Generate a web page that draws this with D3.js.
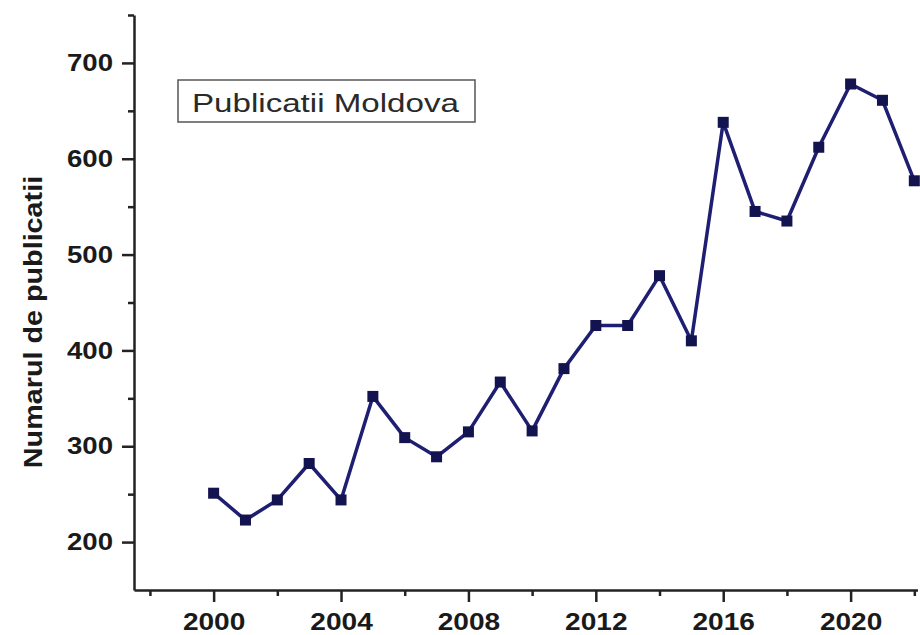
<!DOCTYPE html>
<html>
<head>
<meta charset="utf-8">
<script src="https://cdn.jsdelivr.net/npm/d3@7"></script>
<style>
  html, body { margin: 0; padding: 0; background: #fff; }
  svg { display: block; }
</style>
</head>
<body>
<svg id="chart" width="920" height="635"></svg>
<script>
// Yearly publication counts for Moldova
const years = [2000, 2001, 2002, 2003, 2004, 2005, 2006, 2007, 2008, 2009, 2010, 2011,
               2012, 2013, 2014, 2015, 2016, 2017, 2018, 2019, 2020, 2021, 2022];
const publications = [251, 223, 244, 282, 244, 352, 309, 289, 315, 367, 316, 381,
                      426, 426, 478, 410, 638, 545, 535, 612, 678, 661, 577];
const xMajorTicks = [2000, 2004, 2008, 2012, 2016, 2020];
const xMinorTicks = [1998, 2002, 2006, 2010, 2014, 2018, 2022];
const yMajorTicks = [200, 300, 400, 500, 600, 700];
const yMinorTicks = [250, 350, 450, 550, 650, 750];
const seriesName = "Publicatii Moldova";
const yTitle = "Numarul de publicatii";

const svg = d3.select("#chart");
const plotLeft = 134, plotRight = 917.5, plotTop = 15, plotBottom = 590;
const axisColor = "#222";
const lineColor = "#1e1e72";
const markerColor = "#13134f";
const wide = 1.15; // horizontal stretch of the label glyphs

const x = d3.scaleLinear().domain([1997.5, 2022.1]).range([plotLeft, plotRight]);
const y = d3.scaleLinear().domain([150, 750]).range([plotBottom, plotTop]);

svg.append("rect").attr("width", 920).attr("height", 635).attr("fill", "#fff");

// X axis: major ticks with labels, minor ticks without
const gx = svg.append("g").attr("transform", `translate(0,${plotBottom})`);
gx.call(d3.axisBottom(x).tickValues(xMajorTicks).tickFormat(d3.format("d"))
  .tickSize(12).tickPadding(11).tickSizeOuter(0));
gx.append("g").call(d3.axisBottom(x).tickValues(xMinorTicks).tickFormat("")
  .tickSize(6).tickSizeOuter(0)).select(".domain").remove();

// Y axis
const gy = svg.append("g").attr("transform", `translate(${plotLeft},0)`);
gy.call(d3.axisLeft(y).tickValues(yMajorTicks).tickFormat(d3.format("d"))
  .tickSize(12).tickPadding(9).tickSizeOuter(0));
gy.append("g").call(d3.axisLeft(y).tickValues(yMinorTicks).tickFormat("")
  .tickSize(6).tickSizeOuter(0)).select(".domain").remove();

[gx, gy].forEach(g => {
  g.selectAll(".domain, line").attr("stroke", axisColor).attr("stroke-width", 2.5);
  g.selectAll("text")
    .attr("fill", "#1a1a1a")
    .style("font-family", "'Liberation Sans', Arial, sans-serif")
    .style("font-weight", "bold")
    .style("font-size", "24px");
});
gx.selectAll(".tick text").attr("dy", "0.71em").attr("transform", `scale(${wide + 0.02},1)`);
gy.selectAll(".tick text").attr("x", -21 / wide).attr("transform", `scale(${wide},1)`);

// Y axis title
svg.append("text")
  .attr("transform", `translate(33,322) rotate(-90) scale(${wide},1)`)
  .attr("text-anchor", "middle")
  .attr("dy", "0.36em")
  .attr("fill", "#1a1a1a")
  .style("font-family", "'Liberation Sans', Arial, sans-serif")
  .style("font-weight", "bold")
  .style("font-size", "25px")
  .text(yTitle);

// Data line and square markers
const data = years.map((yr, i) => ({ year: yr, value: publications[i] }));
svg.append("path")
  .datum(data)
  .attr("fill", "none")
  .attr("stroke", lineColor)
  .attr("stroke-width", 3.5)
  .attr("stroke-linejoin", "round")
  .attr("d", d3.line().x(d => x(d.year)).y(d => y(d.value)));

const m = 11;
svg.append("g").selectAll("rect")
  .data(data)
  .join("rect")
  .attr("x", d => x(d.year) - m / 2)
  .attr("y", d => y(d.value) - m / 2)
  .attr("width", m)
  .attr("height", m)
  .attr("fill", markerColor);

// Legend box
const legend = svg.append("g");
legend.append("rect")
  .attr("x", 178).attr("y", 80).attr("width", 297).attr("height", 42)
  .attr("fill", "#fff").attr("stroke", "#555").attr("stroke-width", 1.5);
legend.append("text")
  .attr("transform", "translate(192,111.5) scale(1.25,1)")
  .attr("fill", "#2a2a2a")
  .style("font-family", "'Liberation Sans', Arial, sans-serif")
  .style("font-size", "26.5px")
  .text(seriesName);
</script>
</body>
</html>
